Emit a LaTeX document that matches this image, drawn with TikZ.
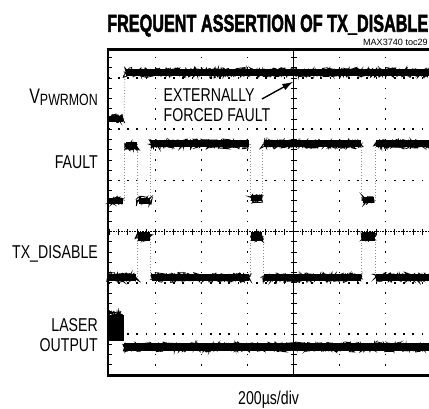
\documentclass[tikz,border=0pt]{standalone}
\usepackage{fontspec}
\setmainfont{Liberation Sans}
\newfontfamily\condfont[FakeStretch=0.76]{Liberation Sans}
\newfontfamily\titlefont[BoldFeatures={FakeBold=2.5}]{Liberation Sans}
\usetikzlibrary{arrows.meta,decorations.pathmorphing}
\tikzset{
  lbl/.style={font=\condfont\fontsize{18.6}{20}\selectfont, inner sep=0pt},
  noise/.style={decorate, decoration={random steps, segment length=0.8pt, amplitude=5pt}, line width=0.8pt},
  noisetwo/.style={decorate, decoration={random steps, segment length=0.7pt, amplitude=4pt}, line width=0.9pt},
  trans/.style={black!45, dotted, line width=0.8pt},
  gdot/.style={fill=black},
  frame/.style={line width=2.6pt},
  axisline/.style={line width=0.6pt},
  pointer/.style={-{Latex[length=11pt,width=7pt]}, line width=1.4pt}
}
\newcommand\tseg[4]{%
  \draw[line width=#4pt] (#1,#3) -- (#2,#3);
  \draw[noise] (#1,#3) -- (#2,#3);
  \draw[noisetwo] (#1,#3) -- (#2,#3);}
\begin{document}
\begin{tikzpicture}[x=1pt,y=-1pt]
\pgfmathsetseed{7}
\useasboundingbox (0,0) rectangle (429,409);
\clip (0,0) rectangle (429,409);
\fill[white] (0,0) rectangle (429,409);

% ---- graticule: dotted grid lines
\foreach \yy in {78.1,129.3,180.5,282.9,334.1}
  \foreach \i in {-20,...,15}
    \fill[gdot] (293.5+\i*9.2-0.8,\yy-0.8) rectangle ++(1.6,1.6);
\foreach \xx in {155.5,201.5,247.5,339.5,385.5}
  \foreach \k in {-17,...,13}
    \fill[gdot] (\xx-0.8,231.7+\k*10.24-0.8) rectangle ++(1.6,1.6);
% left border ticks
\foreach \k in {-17,...,13}
  \draw[line width=1pt] (108,231.7+\k*10.24) -- (112,231.7+\k*10.24);
% center axes
\draw[axisline] (293.5,49.5) -- (293.5,375);
\foreach \k in {-17,...,13}
  \draw[line width=1pt] (290.5,231.7+\k*10.24) -- (296.5,231.7+\k*10.24);
\draw[axisline, densely dotted] (108,231.7) -- (429,231.7);
\foreach \i in {-20,...,15}
  \draw[line width=1pt] (293.5+\i*9.2,228.7) -- (293.5+\i*9.2,234.7);

% ---- transitions (faint)
\draw[trans] (124,119) -- (125,73);
\foreach \xx/\ya/\yb in {124/201/144,137.5/144/201,150/201/144,250/144/201,262.5/201/144,361.5/144/201,375/201/144}
  \draw[trans] (\xx,\ya) -- (\xx,\yb);
\foreach \xx/\ya/\yb in {137/277/236,150.5/236/277,250/277/236,263/236/277,361.5/277/236,375/236/277}
  \draw[trans] (\xx,\ya) -- (\xx,\yb);

% ---- VPWRMON trace
\tseg{109}{123}{119}{6.5}
\tseg{125.5}{432}{72.5}{7}
% ---- FAULT trace
\tseg{109}{123}{201}{6.5}
\tseg{125.5}{136.5}{146}{7}
\tseg{138.5}{149.5}{201}{6.5}
\tseg{151}{249}{144}{7}
\tseg{251}{261.5}{198}{6.5}
\tseg{263.5}{360.5}{144}{7}
\tseg{362.5}{374}{200}{6.5}
\tseg{376}{432}{144}{7}
% ---- TX_DISABLE trace
\tseg{109}{136}{277.5}{7}
\tseg{137.5}{149.5}{236.5}{8.5}
\tseg{151.5}{249}{277.5}{7}
\tseg{250.5}{262}{236.5}{8.5}
\tseg{264}{360.5}{277.5}{7}
\tseg{362}{374.5}{236.5}{8.5}
\tseg{376}{432}{277.5}{7}
% ---- LASER OUTPUT trace
\fill (108,315) rectangle (123.5,341);
\draw[noise] (109,315) -- (123,315);
\draw[noisetwo] (109,315) -- (123,315);
\tseg{124}{432}{347}{8}

% ---- frame
\draw[frame] (108,49.5) -- (440,49.5);
\draw[frame] (108,375.5) -- (440,375.5);
\draw[frame] (108,48.2) -- (108,376.8);

% ---- texts
\node[anchor=base west, inner sep=0pt] (title) at (107,31.7) {\resizebox{321pt}{17pt}{\titlefont\bfseries FREQUENT ASSERTION OF TX\_DISABLE}};
\node[anchor=base east, inner sep=0pt, font=\fontsize{9.1}{10}\selectfont] (toc) at (428,45.3) {MAX3740 toc29};
\node[lbl, anchor=base east] (vp) at (98,103.5) {{\fontsize{21}{21}\selectfont V}{\fontsize{16.3}{16.3}\selectfont\raisebox{-1.7pt}{PWRMON}}};
\node[lbl, anchor=base east] (fault) at (98,168.3) {FAULT};
\node[lbl, anchor=base east] (txd) at (98,258.3) {TX\_DISABLE};
\node[lbl, anchor=base east] (laserA) at (98,331.7) {LASER};
\node[lbl, anchor=base east] (laserB) at (98,351.7) {OUTPUT};
\node[lbl, anchor=base west, fill=white, inner sep=0.5pt] (ext1) at (163,101.7) {EXTERNALLY};
\node[lbl, anchor=base west, fill=white, inner sep=0.5pt] (ext2) at (163,121.7) {FORCED FAULT};
\node[lbl, anchor=base west] (tdiv) at (238,404) {200µs/div};

% ---- pointer arrow
\coordinate (arS) at (262,99);
\coordinate (arT) at (293.3,81.7);
\draw[pointer] (arS) -- (arT);
\end{tikzpicture}
\end{document}
